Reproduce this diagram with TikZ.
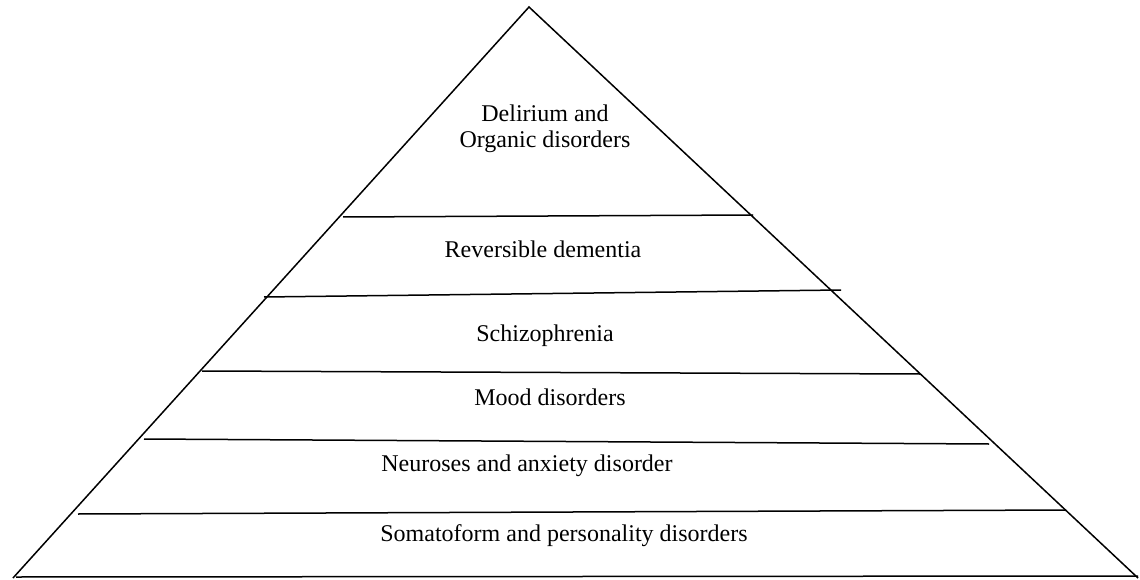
\documentclass[tikz,border=0pt]{standalone}
\usepackage{fontspec}
\setmainfont{Liberation Serif}
\begin{document}
\begin{tikzpicture}[x=1pt,y=-1pt,
  edge/.style={line width=1.5pt,black},
  lbl/.style={anchor=base,inner sep=0pt,font=\fontsize{24}{25}\selectfont}]
\useasboundingbox (0,0) rectangle (1140,580);
\coordinate (apex) at (529,7);
\coordinate (bl) at (13,578);
\coordinate (br) at (1138,578);
\draw[edge] (bl) -- (apex) -- (br);
\coordinate (b1l) at (16,577); \coordinate (b1r) at (1138,576);
\draw[edge] (b1l) -- (b1r);
\coordinate (l1a) at (343,217); \coordinate (l1b) at (753,215);
\coordinate (l2a) at (264,297); \coordinate (l2b) at (841,290);
\coordinate (l3a) at (202,371); \coordinate (l3b) at (920,374);
\coordinate (l4a) at (144,439); \coordinate (l4b) at (989,444);
\coordinate (l5a) at (78,514); \coordinate (l5b) at (1066,510);
\draw[edge] (l1a) -- (l1b);
\draw[edge] (l2a) -- (l2b);
\draw[edge] (l3a) -- (l3b);
\draw[edge] (l4a) -- (l4b);
\draw[edge] (l5a) -- (l5b);
\node[lbl] (t1a) at (545,122) {Delirium and};
\node[lbl] (t1b) at (545,148) {Organic disorders};
\node[lbl] (t2) at (543,257) {Reversible dementia};
\node[lbl] (t3) at (545,341) {Schizophrenia};
\node[lbl] (t4) at (550,405) {Mood disorders};
\node[lbl] (t5) at (527,471) {Neuroses and anxiety disorder};
\node[lbl] (t6) at (564,541) {Somatoform and personality disorders};
\end{tikzpicture}
\end{document}
